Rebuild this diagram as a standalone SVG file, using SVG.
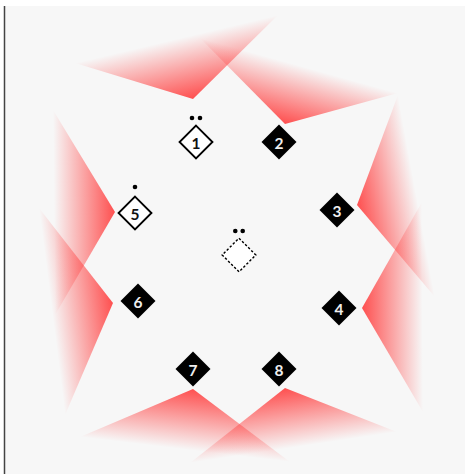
<svg xmlns="http://www.w3.org/2000/svg" width="465" height="474" viewBox="0 0 465 474">
<style>
.bg{fill:#f7f7f7}
.frame{stroke:#444;stroke-width:1.5}
.dk{fill:#000}
.lt{fill:#fff;stroke:#000;stroke-width:2}
.ds{fill:#fff;stroke:#000;stroke-width:1.5;stroke-dasharray:2.5 2}
.num{font-family:Lato,"Liberation Sans",sans-serif;font-weight:700;font-size:15.5px;text-anchor:middle;dominant-baseline:central}
.w{fill:#eee}
.b{fill:#111}
.dot{fill:#000}
</style>
<defs>
<linearGradient id="gA" gradientUnits="userSpaceOnUse" x1="193" y1="99" x2="178.7" y2="38.5"><stop offset="0" stop-color="#ff3d3d" stop-opacity="0.9"/><stop offset="1" stop-color="#ff3d3d" stop-opacity="0"/></linearGradient>
<linearGradient id="gB" gradientUnits="userSpaceOnUse" x1="285" y1="124" x2="301.1" y2="66.1"><stop offset="0" stop-color="#ff3d3d" stop-opacity="0.9"/><stop offset="1" stop-color="#ff3d3d" stop-opacity="0"/></linearGradient>
<linearGradient id="gC" gradientUnits="userSpaceOnUse" x1="357" y1="205" x2="416.2" y2="194.2"><stop offset="0" stop-color="#ff3d3d" stop-opacity="0.9"/><stop offset="1" stop-color="#ff3d3d" stop-opacity="0"/></linearGradient>
<linearGradient id="gD" gradientUnits="userSpaceOnUse" x1="362" y1="308" x2="422.5" y2="307.7"><stop offset="0" stop-color="#ff3d3d" stop-opacity="0.9"/><stop offset="1" stop-color="#ff3d3d" stop-opacity="0"/></linearGradient>
<linearGradient id="gE" gradientUnits="userSpaceOnUse" x1="115" y1="212" x2="54" y2="212.6"><stop offset="0" stop-color="#ff3d3d" stop-opacity="0.9"/><stop offset="1" stop-color="#ff3d3d" stop-opacity="0"/></linearGradient>
<linearGradient id="gF" gradientUnits="userSpaceOnUse" x1="113" y1="303" x2="51.9" y2="310.7"><stop offset="0" stop-color="#ff3d3d" stop-opacity="0.9"/><stop offset="1" stop-color="#ff3d3d" stop-opacity="0"/></linearGradient>
<linearGradient id="gG" gradientUnits="userSpaceOnUse" x1="193" y1="389" x2="185.8" y2="449.6"><stop offset="0" stop-color="#ff3d3d" stop-opacity="0.9"/><stop offset="1" stop-color="#ff3d3d" stop-opacity="0"/></linearGradient>
<linearGradient id="gH" gradientUnits="userSpaceOnUse" x1="285" y1="388" x2="293.9" y2="447.4"><stop offset="0" stop-color="#ff3d3d" stop-opacity="0.9"/><stop offset="1" stop-color="#ff3d3d" stop-opacity="0"/></linearGradient>
<path id="dia" d="M0,-17.5 L17.5,0 L0,17.5 L-17.5,0 Z"/>
</defs>
<rect x="0" y="0" width="465" height="474" fill="#fff"/>
<rect class="bg" x="5" y="6" width="460" height="468"/>
<line class="frame" x1="4.5" y1="6" x2="4.5" y2="474"/>
<g id="wedges">
<polygon points="193,99 75,63 278,15" fill="url(#gA)"/>
<polygon points="285,124 200,38 398,93" fill="url(#gB)"/>
<polygon points="357,205 398,95 435,297" fill="url(#gC)"/>
<polygon points="362,308 422,202 423,412" fill="url(#gD)"/>
<polygon points="115,212 53,110 55,315" fill="url(#gE)"/>
<polygon points="113,303 39,208 65,415" fill="url(#gF)"/>
<polygon points="193,389 80,437 290,462" fill="url(#gG)"/>
<polygon points="285,388 190,463 397,432" fill="url(#gH)"/>
</g>
<g id="connectors"/>
<g id="node1" transform="translate(196,142)">
<use href="#dia" class="lt" transform="scale(0.94)"/>
<text class="num b" x="0" y="1">1</text>
<circle class="dot" cx="-4" cy="-24" r="2.3"/><circle class="dot" cx="4" cy="-24" r="2.3"/>
</g>
<g id="node2" transform="translate(279,142)">
<use href="#dia" class="dk"/>
<text class="num w" x="0" y="1">2</text>
</g>
<g id="node3" transform="translate(337,210)">
<use href="#dia" class="dk"/>
<text class="num w" x="0" y="1">3</text>
</g>
<g id="node4" transform="translate(339,308)">
<use href="#dia" class="dk"/>
<text class="num w" x="0" y="1">4</text>
</g>
<g id="node5" transform="translate(135,213)">
<use href="#dia" class="lt" transform="scale(0.94)"/>
<text class="num b" x="0" y="1">5</text>
<circle class="dot" cx="0" cy="-26" r="2.3"/>
</g>
<g id="node6" transform="translate(138,301)">
<use href="#dia" class="dk"/>
<text class="num w" x="0" y="1">6</text>
</g>
<g id="node7" transform="translate(193,369)">
<use href="#dia" class="dk"/>
<text class="num w" x="0" y="1">7</text>
</g>
<g id="node8" transform="translate(279,369)">
<use href="#dia" class="dk"/>
<text class="num w" x="0" y="1">8</text>
</g>
<g id="center" transform="translate(239,255)">
<use href="#dia" class="ds" transform="scale(0.96)"/>
<circle class="dot" cx="-3.7" cy="-24" r="2.3"/><circle class="dot" cx="3.7" cy="-24" r="2.3"/>
</g>
</svg>
